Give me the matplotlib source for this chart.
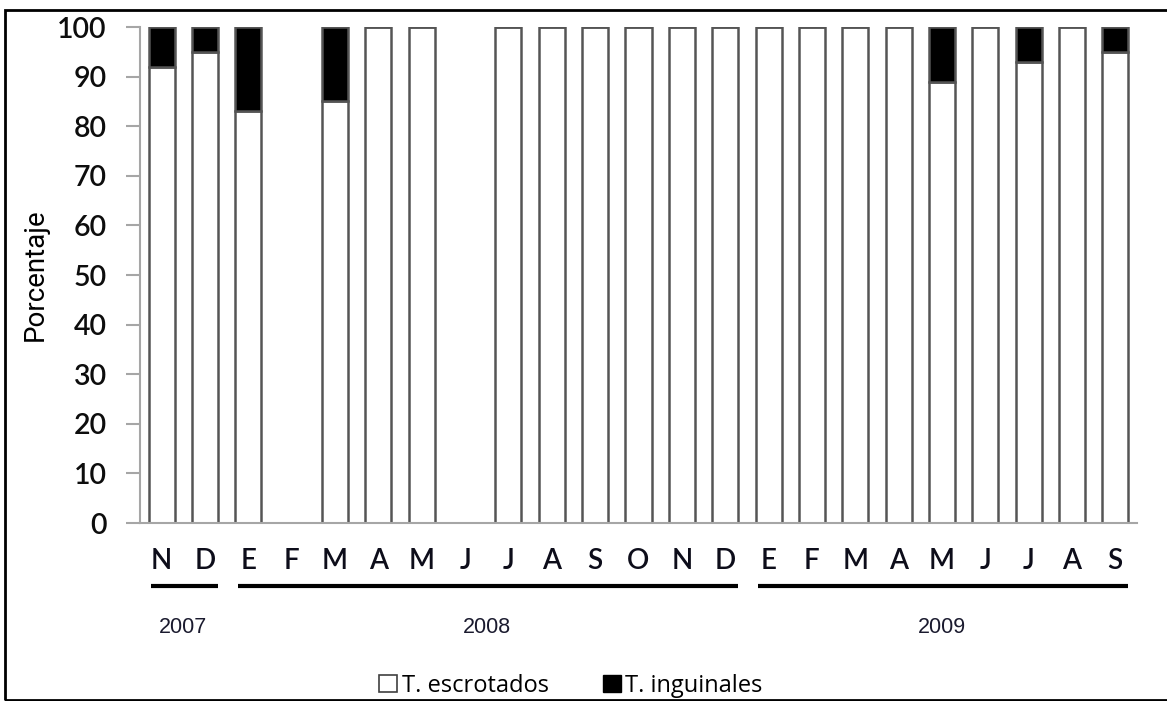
import matplotlib.pyplot as plt
from matplotlib.patches import Patch, Rectangle
import matplotlib.transforms as transforms
import numpy as np

# months from Nov 2007 to Sep 2009
months = ["N", "D", "E", "F", "M", "A", "M", "J", "J", "A", "S", "O", "N", "D",
          "E", "F", "M", "A", "M", "J", "J", "A", "S"]
# percent of scrotal testes, None where there was no sample
escrotados = [92, 95, 83, None, 85, 100, 100, None, 100, 100, 100, 100, 100, 100,
              100, 100, 100, 100, 89, 100, 93, 100, 95]
years = ["2007", "2008", "2009"]
year_start = [0, 2, 14]  # index of first month in each year
year_end = [1, 13, 22]  # index of last month in each year

x = np.arange(len(months))
esc = np.array([np.nan if v is None else v for v in escrotados], dtype=float)
ing = 100 - esc  # inguinal testes make up the rest

fig = plt.figure(figsize=(11.67, 7.01), dpi=100)
ax = fig.add_axes([140 / 1167, 1 - 523 / 701, 997 / 1167, 496 / 701])

edge = "#555555"
ax.bar(x, esc, width=0.6, color="white", edgecolor=edge, linewidth=1.8)
ax.bar(x, ing, width=0.6, bottom=esc, color="black", edgecolor=edge, linewidth=1.8)

ax.set_xlim(-0.5, 22.5)
ax.set_ylim(0, 100)
ax.set_yticks(range(0, 101, 10))
ax.set_xticks(x)
ax.set_xticklabels(months, fontsize=20, family="Lato", fontweight="semibold",
                   color="#0d0d1a")
ax.tick_params(axis="x", length=0, pad=18)
ax.tick_params(axis="y", length=10, width=1.5, color="#a6a6a6", pad=14, labelsize=20.5,
               labelcolor="#0d0d0d")
for lab in ax.get_yticklabels():
    lab.set_family("Lato")
    lab.set_fontweight("semibold")

for s in ["top", "right"]:
    ax.spines[s].set_visible(False)
for s in ["left", "bottom"]:
    ax.spines[s].set_color("#a6a6a6")
    ax.spines[s].set_linewidth(1.5)

# year underlines and labels below the months
trans = transforms.blended_transform_factory(ax.transData, ax.transAxes)
for name, a, b in zip(years, year_start, year_end):
    ax.plot([a - 0.24, b + 0.3], [-0.127, -0.127], color="black", linewidth=3,
            solid_capstyle="butt", transform=trans, clip_on=False)
    ax.text((a + b) / 2, -0.21, name, transform=trans, ha="center", va="center",
            fontsize=15.5, family="Liberation Sans", color="#1a1a2e")

fig.text(35 / 1167, 1 - 275 / 701, "Porcentaje", rotation=90, ha="center", va="center",
         fontsize=20, family=["Liberation Sans Narrow", "Roboto", "DejaVu Sans"])

handles = [Patch(facecolor="white", edgecolor="#404040", linewidth=1.2),
           Patch(facecolor="black", edgecolor="black")]
fig.legend(handles, ["T. escrotados", "T. inguinales"], loc="center",
           bbox_to_anchor=(571 / 1167, 1 - 686 / 701), ncol=2, frameon=False,
           handlelength=0.75, handleheight=0.75, handletextpad=0.2, columnspacing=2.3,
           prop={"family": "Open Sans", "size": 17})

# border round the whole picture
fig.patches.append(Rectangle((5 / 1167, 1 - 700 / 701), 1.2, 690 / 701,
                             transform=fig.transFigure, fill=False, linewidth=2,
                             edgecolor="black"))

fig.savefig("out.png", dpi=100)
